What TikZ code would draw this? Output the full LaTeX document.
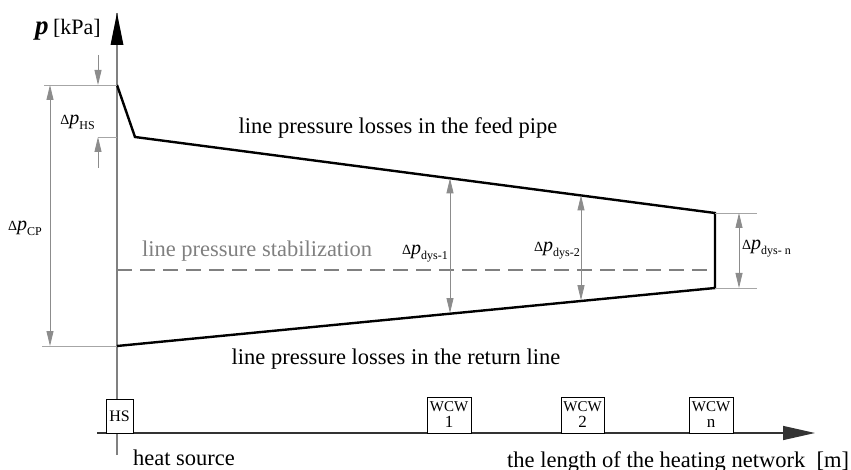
\documentclass[tikz,border=0pt]{standalone}
\usepackage{fontspec}
\setmainfont{Liberation Serif}
\usetikzlibrary{arrows.meta}

% pressure difference label
\newcommand{\dpress}[1]{{\fontsize{14}{14}\selectfont Δ}\textit{p}\raisebox{-0.5ex}{\fontsize{12}{12}\selectfont #1}}

\begin{document}
\begin{tikzpicture}[x=1pt, y=-1pt, line cap=butt, line join=miter,
		axis/.style={line width=1.4pt},
		profile/.style={line width=2.4pt, black},
		dimline/.style={gray!90, line width=0.8pt},
		dimtip/.style={-{Triangle[length=15pt,width=7pt]}},
		dimboth/.style={{Triangle[length=15pt,width=7pt]}-{Triangle[length=15pt,width=7pt]}},
		extline/.style={gray!70, line width=0.8pt},
		lbl/.style={font=\fontsize{22.5}{26}\selectfont, inner sep=0pt},
		dlbl/.style={font=\fontsize{20}{20}\selectfont, inner sep=0pt},
		station/.style={draw, fill=white, line width=0.7pt, inner sep=0pt, align=center}]
		
		\useasboundingbox (0,0) rectangle (851,470);
		
		% Points of the axes
		\coordinate (ytop) at (117,13);
		\coordinate (ybot) at (117,455);
		\coordinate (xleft) at (97,433);
		\coordinate (xtip) at (815,433);
		
		% Points of the pressure profile
		\coordinate (feed0) at (117,85);
		\coordinate (feed1) at (135,137);
		\coordinate (feed2) at (715,213);
		\coordinate (ret2) at (715,288);
		\coordinate (ret0) at (117,346);
		\coordinate (stab0) at (117,270);
		\coordinate (stab1) at (715,270);
		
		% Axes
		\draw[axis, gray] (ybot) -- (ytop);
		\fill (117,13) -- (110.5,45) -- (123.5,45) -- cycle;
		\draw[axis, black!80, -{Triangle[length=32pt,width=14pt]}] (xleft) -- (xtip);
		\node[inner sep=0pt, anchor=base east] (plab) at (101,35)
			{\fontsize{27}{27}\selectfont\textbf{\textit{p}}\,{\fontsize{22}{22}\selectfont[kPa]}};
		
		% Line pressure stabilization
		\draw[gray, line width=2.6pt, dash pattern=on 15pt off 8pt] (stab0) -- (stab1);
		\node[lbl, text=gray, anchor=base] (stabtxt) at (257,257) {line pressure stabilization};
		
		% Pressure profile of feed pipe and return line
		\draw[profile] (feed0) -- (feed1) -- (feed2) -- (ret2) -- (ret0);
		\node[lbl, anchor=base] (feedtxt) at (398,134) {line pressure losses in the feed pipe};
		\node[lbl, anchor=base] (rettxt) at (396,364) {line pressure losses in the return line};
		
		% Delta p HS
		\coordinate (hsup) at (98,55);
		\coordinate (hsa) at (98,85);
		\coordinate (hsb) at (98,137);
		\coordinate (hsdown) at (98,168);
		\coordinate (cpext) at (44,85);
		\draw[extline] (cpext) -- (feed0);
		\draw[extline] (hsb) -- (117,137);
		\draw[dimline, dimtip] (hsup) -- (hsa);
		\draw[dimline, dimtip] (hsdown) -- (hsb);
		\node[dlbl, anchor=base east] (hslab) at (95,125) {\dpress{HS}};
		
		% Delta p CP
		\coordinate (cpa) at (50,85);
		\coordinate (cpb) at (50,346);
		\coordinate (cpext2) at (42,346);
		\draw[extline] (cpext2) -- (ret0);
		\draw[dimline, dimboth] (cpa) -- (cpb);
		\node[dlbl, anchor=base east] (cplab) at (42,231) {\dpress{CP}};
		
		% Delta p dys
		\coordinate (d1a) at (450,178.3);
		\coordinate (d1b) at (450,313);
		\draw[dimline, dimboth] (d1a) -- (d1b);
		\node[dlbl, anchor=base east] (d1lab) at (448,255) {\dpress{dys-1}};
		\coordinate (d2a) at (581,195.4);
		\coordinate (d2b) at (581,300.2);
		\draw[dimline, dimboth] (d2a) -- (d2b);
		\node[dlbl, anchor=base east] (d2lab) at (580,252) {\dpress{dys-2}};
		\coordinate (dna) at (739,213);
		\coordinate (dnb) at (739,288);
		\draw[extline] (feed2) -- (757,213);
		\draw[extline] (ret2) -- (757,288);
		\draw[dimline, dimboth] (dna) -- (dnb);
		\node[dlbl, anchor=base west] (dnlab) at (742,250) {\dpress{dys- n}};
		
		% Heat source and water consumer stations
		\node[station, minimum width=27pt, minimum height=34pt, font=\fontsize{16}{16}\selectfont] (hs) at (119.5,416) {HS};
		\node[station, minimum width=44pt, minimum height=36pt, font=\fontsize{17}{16}\selectfont] (wcw1) at (449,415)
			{{\fontsize{15}{15}\selectfont WCW}\\1};
		\node[station, minimum width=43pt, minimum height=36pt, font=\fontsize{17}{16}\selectfont] (wcw2) at (582.5,415)
			{{\fontsize{15}{15}\selectfont WCW}\\2};
		\node[station, minimum width=44pt, minimum height=36pt, font=\fontsize{17}{16}\selectfont] (wcwn) at (711,415)
			{{\fontsize{15}{15}\selectfont WCW}\\n};
		
		% Axis captions
		\node[lbl, anchor=base] (hstxt) at (184,465) {heat source};
		\node[lbl, anchor=base west] (lentxt) at (507,467) {the length of the heating network\hspace{0.5em}[m]};
		
	\end{tikzpicture}
\end{document}
